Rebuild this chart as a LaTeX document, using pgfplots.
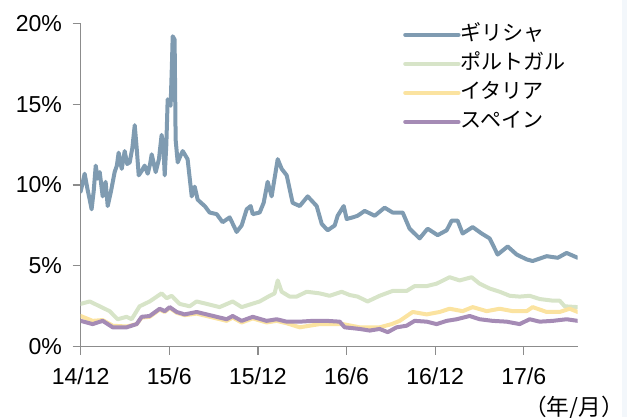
\documentclass[border=0pt]{standalone}
\usepackage{fontspec}
\setmainfont{Liberation Sans}
\newfontfamily\jp{Noto Sans CJK JP}
\usepackage{pgfplots}
\pgfplotsset{compat=1.18}
\definecolor{cGR}{HTML}{7F9BB1}
\definecolor{cPT}{HTML}{D7E4C8}
\definecolor{cIT}{HTML}{FBE3A0}
\definecolor{cES}{HTML}{A58BB5}
\definecolor{axgray}{HTML}{8C8C8C}
\definecolor{edge}{HTML}{F3F7FB}
\begin{document}
\begin{tikzpicture}
\useasboundingbox (0,0) rectangle (470.25pt,312.75pt);
\fill[edge] (466.5pt,0pt) rectangle (470.25pt,312.75pt);
\begin{axis}[
  at={(60.5pt,52.7pt)}, anchor=south west,
  scale only axis, width=372.75pt, height=242.55pt,
  xmin=0, xmax=33.65, ymin=0, ymax=20,
  axis x line*=bottom, axis y line*=left,
  axis line style={draw=axgray, line width=0.9pt, -},
  tick style={draw=axgray, line width=0.9pt},
  tick align=outside, major tick length=6pt,
  xtick={0,6,12,18,24,30},
  xticklabels={14/12,15/6,15/12,16/6,16/12,17/6},
  ytick={0,5,10,15,20},
  yticklabel={\pgfmathprintnumber{\tick}\%},
  /pgf/number format/assume math mode=true,
  tick label style={font=\fontsize{17.3}{20}\selectfont, text=black},
  xticklabel style={yshift=-6pt},
  yticklabel style={xshift=-4.5pt},
  every axis plot/.append style={line width=3pt, line join=round, line cap=round},
  legend style={at={(0.6485,0.994)}, anchor=north west, draw=none, fill=none,
    font=\jp\fontsize{15.8}{18}\selectfont, row sep=7.75pt, inner sep=0pt,
    nodes={inner sep=0pt, text height=11pt, text depth=3pt, anchor=west}},
  legend cell align=left,
  legend image code/.code={\draw[#1, line width=3pt, line cap=round] (0pt,0pt) -- (40pt,0pt);},
  legend columns=1,
]
\addplot[cGR] coordinates {(0,9.6) (0.27,10.7) (0.45,9.8) (0.61,9.1) (0.74,8.5) (0.88,9.6) (1.02,11.2) (1.15,10.4) (1.29,10.8) (1.49,9.3) (1.69,10.2) (1.83,8.7) (2.05,9.6) (2.30,10.8) (2.45,11.2) (2.57,12.0) (2.78,11.0) (2.98,12.1) (3.15,11.3) (3.32,11.4) (3.5,12.3) (3.66,13.7) (3.8,12.2) (3.93,10.6) (4.15,10.9) (4.33,11.2) (4.54,10.7) (4.7,11.3) (4.81,11.9) (5.08,10.8) (5.3,11.6) (5.48,13.1) (5.6,12.5) (5.69,10.6) (5.8,12.5) (5.89,15.3) (6.09,14.9) (6.18,17.5) (6.23,19.2) (6.36,19.0) (6.43,12.8) (6.57,11.4) (6.75,11.8) (6.91,12.1) (7.24,11.6) (7.52,9.3) (7.72,9.9) (7.92,9.1) (8.15,8.9) (8.4,8.7) (8.73,8.3) (9.21,8.2) (9.61,7.7) (10.09,8.0) (10.56,7.1) (10.9,7.5) (11.24,8.5) (11.51,8.7) (11.65,8.2) (12.12,8.3) (12.39,8.9) (12.66,10.2) (12.93,9.3) (13.34,11.6) (13.61,11.0) (13.95,10.6) (14.35,8.9) (14.83,8.7) (15.37,9.3) (15.98,8.7) (16.32,7.6) (16.72,7.2) (17.2,7.5) (17.4,8.1) (17.81,8.7) (18.01,7.9) (18.42,8.0) (18.75,8.1) (19.23,8.4) (19.91,8.1) (20.58,8.6) (21.12,8.3) (21.8,8.3) (22.27,7.3) (22.95,6.7) (23.49,7.3) (24.17,6.9) (24.78,7.2) (25.12,7.8) (25.52,7.8) (25.86,7.0) (26.54,7.4) (27.15,7.0) (27.69,6.7) (28.23,5.7) (28.91,6.2) (29.52,5.7) (30.2,5.4) (30.6,5.3) (31.55,5.6) (32.3,5.5) (32.9,5.8) (33.65,5.5)};
\addlegendentry{ギリシャ}
\addplot[cPT] coordinates {(0,2.65) (0.61,2.8) (1.29,2.5) (1.96,2.2) (2.5,1.7) (3.11,1.85) (3.45,1.7) (3.99,2.5) (4.67,2.8) (5.48,3.3) (5.82,3.0) (6.16,3.15) (6.7,2.65) (7.38,2.5) (7.85,2.8) (8.53,2.65) (9.41,2.45) (10.29,2.8) (10.9,2.45) (12.12,2.8) (12.8,3.15) (13.13,3.3) (13.34,4.1) (13.61,3.4) (14.15,3.1) (14.62,3.1) (15.3,3.4) (16.18,3.3) (16.86,3.15) (17.67,3.4) (18.21,3.2) (18.75,3.1) (19.43,2.8) (20.24,3.15) (21.12,3.45) (22.07,3.45) (22.61,3.75) (23.43,3.75) (24.1,3.9) (24.98,4.3) (25.66,4.1) (26.47,4.3) (27.01,3.9) (27.69,3.6) (28.37,3.4) (29.05,3.15) (29.72,3.1) (30.4,3.15) (31.08,2.95) (31.96,2.85) (32.43,2.85) (32.77,2.5) (33.65,2.45)};
\addlegendentry{ポルトガル}
\addplot[cIT] coordinates {(0,1.9) (0.81,1.6) (1.49,1.65) (2.17,1.3) (3.11,1.25) (3.79,1.4) (4.13,1.8) (4.67,1.85) (5.35,2.3) (5.69,2.15) (6.03,2.4) (6.5,2.1) (7.04,1.95) (7.85,2.05) (8.53,1.9) (9.21,1.75) (9.88,1.6) (10.29,1.8) (10.9,1.5) (11.65,1.75) (12.59,1.5) (13.27,1.6) (13.95,1.45) (14.83,1.2) (16.18,1.4) (17.74,1.4) (18.89,1.2) (20.24,1.2) (21.06,1.4) (21.6,1.6) (22.48,2.15) (23.43,2.0) (24.31,2.15) (24.98,2.35) (25.86,2.2) (26.54,2.45) (27.49,2.2) (28.37,2.35) (29.25,2.2) (30.2,2.2) (30.6,2.45) (31.55,2.15) (32.43,2.15) (33.11,2.35) (33.65,2.15)};
\addlegendentry{イタリア}
\addplot[cES] coordinates {(0,1.6) (0.81,1.4) (1.49,1.6) (2.17,1.2) (3.11,1.2) (3.79,1.4) (4.13,1.85) (4.67,1.9) (5.35,2.35) (5.69,2.2) (6.03,2.45) (6.5,2.15) (7.04,2.0) (7.85,2.15) (8.53,2.0) (9.21,1.85) (9.88,1.7) (10.29,1.9) (10.9,1.6) (11.65,1.85) (12.59,1.6) (13.27,1.7) (13.95,1.55) (14.83,1.55) (15.71,1.6) (16.66,1.6) (17.54,1.55) (17.87,1.2) (18.89,1.1) (19.57,1.0) (20.24,1.1) (20.79,0.9) (21.39,1.2) (22.07,1.3) (22.61,1.6) (23.43,1.55) (24.1,1.4) (24.78,1.6) (25.46,1.7) (26.34,1.9) (27.01,1.7) (27.89,1.6) (28.84,1.55) (29.72,1.4) (30.4,1.7) (31.08,1.55) (31.96,1.6) (32.9,1.7) (33.65,1.6)};
\addlegendentry{スペイン}
\end{axis}
\node[anchor=east, inner sep=0pt, font=\jp\fontsize{17}{19}\selectfont] at (468pt,6.75pt) {（年/月）};
\end{tikzpicture}
\end{document}
